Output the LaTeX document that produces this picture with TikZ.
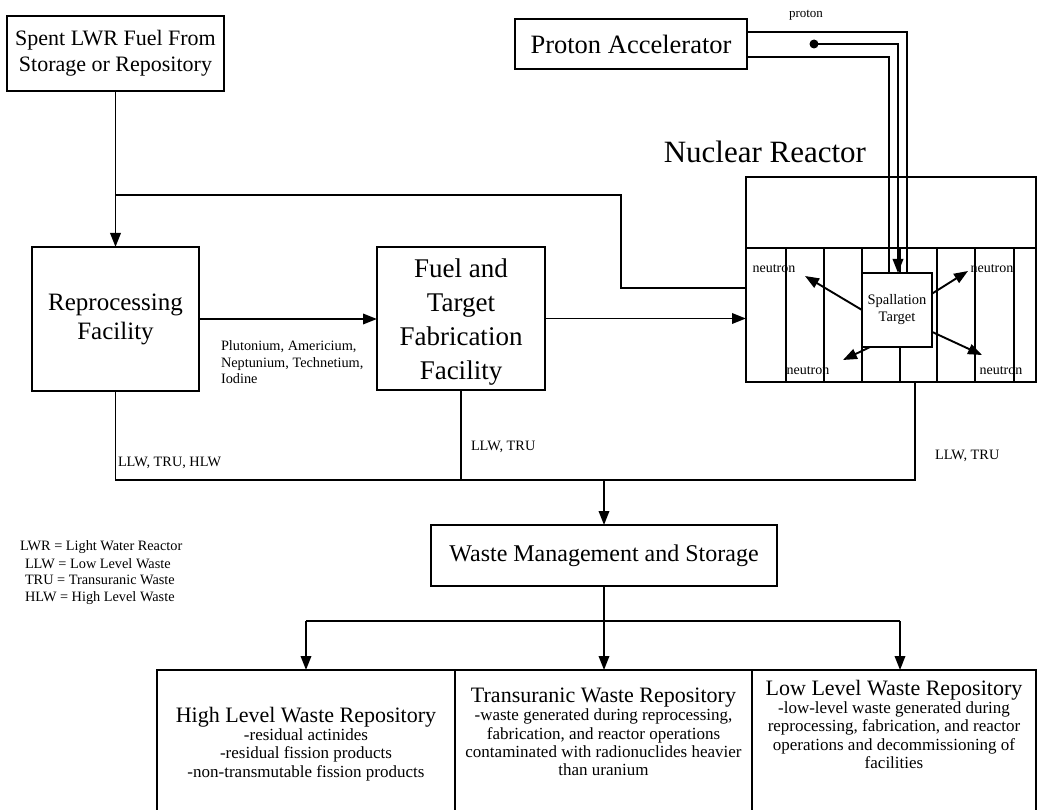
\documentclass[tikz,border=0pt]{standalone}
\usepackage{fontspec}
\setmainfont{Liberation Serif}
\usetikzlibrary{arrows.meta,calc}
\begin{document}
\begin{tikzpicture}[x=1pt,y=-1pt,
  line width=1.9pt,
  box/.style={draw,fill=white,rectangle,inner sep=0pt,outer sep=0pt,align=center},
  txt/.style={inner sep=0pt,outer sep=0pt,align=center},
  arr/.style={-{Triangle[length=14pt,width=10.5pt]}},
  lbl/.style={inner sep=0pt,outer sep=0pt,align=left,font=\fontsize{14.3}{16.5}\selectfont},
  small/.style={inner sep=0pt,outer sep=0pt,font=\fontsize{14}{16}\selectfont},
  repo/.style={txt,anchor=north,font=\fontsize{17}{18.3}\selectfont},
]
\useasboundingbox (0,0) rectangle (1038,810);
\newcommand{\repotitle}[1]{{\fontsize{22}{22}\selectfont #1}}

% ---------- main process boxes ----------
\node[box,minimum width=217pt,minimum height=75pt,font=\fontsize{22}{26}\selectfont]
  (spent) at (115.5,53.5) {Spent LWR Fuel From\\Storage or Repository};
\node[box,minimum width=167pt,minimum height=144pt,font=\fontsize{25}{29}\selectfont]
  (reproc) at (115.5,319) {Reprocessing\\Facility};
\node[box,minimum width=168pt,minimum height=143pt] (fuel) at (461,318.5) {};
\node[txt,font=\fontsize{27}{33.7}\selectfont] (fuellbl) at (461,322)
  {Fuel and\\Target\\Fabrication\\Facility};
\node[box,minimum width=232pt,minimum height=50pt,font=\fontsize{26.5}{30}\selectfont]
  (accel) at (631,44) {Proton Accelerator};

% ---------- reactor with fuel channels ----------
\node[box,minimum width=290pt,minimum height=205pt] (reactor) at (891,279.5) {};
\node[txt,anchor=east,font=\fontsize{31}{34}\selectfont] (rtitle) at (866,152) {Nuclear Reactor};
\draw (reactor.west |- 0,248) -- (reactor.east |- 0,248);
\foreach \x in {786,824,862,900,937,975,1014}
  \draw (\x,248) -- (reactor.south -| \x,0);
\node[box,minimum width=70pt,minimum height=74pt,font=\fontsize{14.5}{17}\selectfont]
  (target) at (897,310) {Spallation\\Target};

% ---------- proton beam lines ----------
\draw (accel.east |- 0,32) -| ([xshift=10pt]target.north);
\draw (accel.east |- 0,57) -| ([xshift=-8pt]target.north);
\coordinate (beam) at (814,44);
\fill (beam) circle (4.5pt);
\draw[arr] (beam) -| ([xshift=1pt]target.north);
\node[small,font=\fontsize{13}{15}\selectfont] (plbl) at (806,15) {proton};

% ---------- neutrons from the target ----------
\coordinate (n1) at (805,276);
\coordinate (n2) at (968,271);
\coordinate (n3) at (843,360);
\coordinate (n4) at (982,355);
\draw[arr] (target.west) -- (n1);
\draw[arr] (target.25) -- (n2);
\draw[arr] (target.234) -- (n3);
\draw[arr] (target.-32) -- (n4);
\node[small] (nl1) at (774,269) {neutron};
\node[small] (nl2) at (992,269) {neutron};
\node[small] (nl3) at (808,371) {neutron};
\node[small] (nl4) at (1001,371) {neutron};

% ---------- material flow ----------
\draw[arr] (spent.south) -- (reproc.north);
\draw (spent.south |- 0,195) -- (621,195) -- (621,288) -- (reactor.west |- 0,288);
\draw[arr] (reproc.east) -- (reproc.east -| fuel.west);
\draw[arr] (fuel.east) -- (fuel.east -| reactor.west);
\node[lbl,anchor=west] (elems) at (221,362.5) {Plutonium, Americium,\\Neptunium, Technetium,\\Iodine};

% ---------- waste collection ----------
\node[box,minimum width=346pt,minimum height=61pt,font=\fontsize{24}{28}\selectfont]
  (waste) at (604,555.5) {Waste Management and Storage};
\draw (reproc.south) -- (reproc.south |- 0,480) -- (915,480) -- (reactor.south -| 915,0);
\draw (fuel.south) -- (fuel.south |- 0,480);
\draw[arr] (waste.north |- 0,480) -- (waste.north);
\node[lbl,anchor=west] (w1) at (118,463) {LLW, TRU, HLW};
\node[lbl,anchor=west] (w2) at (471,447) {LLW, TRU};
\node[lbl,anchor=west] (w3) at (935,456) {LLW, TRU};

% ---------- legend ----------
\node[lbl,anchor=west] (lg1) at (20,547) {LWR = Light Water Reactor};
\node[lbl,anchor=west] (lg2) at (25,581.5) {LLW = Low Level Waste\\TRU = Transuranic Waste\\HLW = High Level Waste};

% ---------- repositories ----------
\node[box,minimum width=298pt,minimum height=170pt] (hlw) at (306,755) {};
\node[box,minimum width=297pt,minimum height=170pt] (tru) at (603.5,755) {};
\node[box,minimum width=284pt,minimum height=170pt] (llw) at (894,755) {};
\draw (waste.south) -- (waste.south |- 0,621);
\draw (hlw.north |- 0,621) -- (900,621);
\draw[arr] (hlw.north |- 0,621) -- (hlw.north);
\draw[arr] (waste.south |- 0,621) -- (tru.north -| waste.south);
\draw[arr] (900,621) -- (llw.north -| 900,0);

\node[repo] (hlwt) at (306,707) {\repotitle{High Level Waste Repository}\\-residual actinides\\-residual fission products\\-non-transmutable fission products};
\node[repo] (trut) at (603.5,688) {\repotitle{Transuranic Waste Repository}\\-waste generated during reprocessing,\\fabrication, and reactor operations\\contaminated with radionuclides heavier\\than uranium};
\node[repo] (llwt) at (894,680) {\repotitle{Low Level Waste Repository}\\-low-level waste generated during\\reprocessing, fabrication, and reactor\\operations and decommissioning of\\facilities};
\end{tikzpicture}
\end{document}
